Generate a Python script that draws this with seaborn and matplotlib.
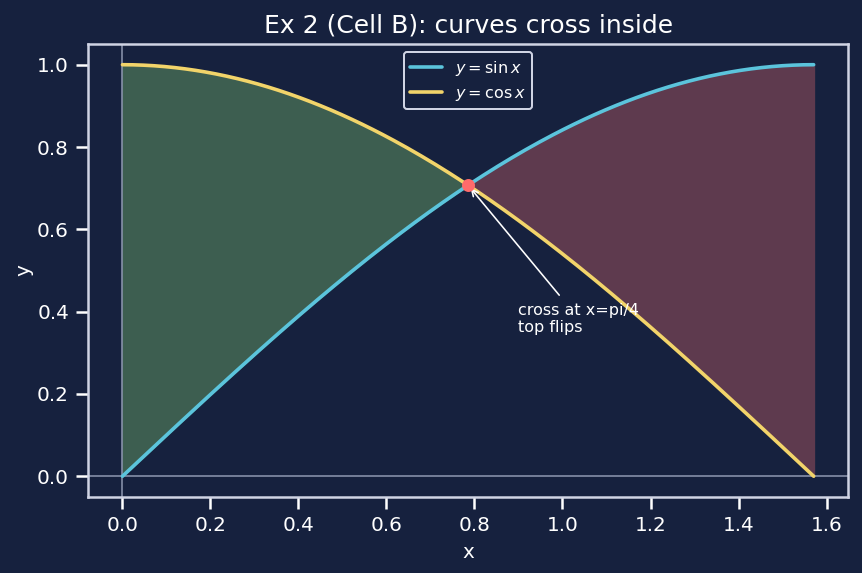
import numpy as np
import pandas as pd
import matplotlib
matplotlib.use("Agg")
import matplotlib.pyplot as plt
import seaborn as sns

# curve samples on [0, pi/2]
x_vals = np.linspace(0, np.pi / 2, 200)
sin_vals = np.sin(x_vals)
cos_vals = np.cos(x_vals)
cross_x = np.pi / 4
cross_y = np.sin(np.pi / 4)

bg = '#16213e'
fg = '#ffffff'
sns.set_theme(style='dark', rc={
    'figure.facecolor': bg, 'axes.facecolor': bg,
    'axes.edgecolor': '#d0d4e4', 'text.color': fg,
    'axes.labelcolor': fg, 'xtick.color': fg, 'ytick.color': fg,
    'xtick.bottom': True, 'ytick.left': True,
})

df = pd.DataFrame({'x': x_vals, 'sin': sin_vals, 'cos': cos_vals})

fig, ax = plt.subplots(figsize=(862 / 144, 573 / 144), dpi=144)
fig.subplots_adjust(left=0.102, right=0.984, top=0.923, bottom=0.133)

ax.fill_between(df['x'], df['sin'], df['cos'], where=df['cos'] >= df['sin'],
                color='#3d5e50', interpolate=True, zorder=1)
ax.fill_between(df['x'], df['sin'], df['cos'], where=df['sin'] >= df['cos'],
                color='#5e3a4e', interpolate=True, zorder=1)
ax.axhline(0, color='#8a93ad', lw=0.8, zorder=2)
ax.axvline(0, color='#8a93ad', lw=0.8, zorder=2)

sns.lineplot(data=df, x='x', y='sin', ax=ax, color='#5bc4dc', lw=1.8,
             label=r'$y=\sin x$', zorder=3)
sns.lineplot(data=df, x='x', y='cos', ax=ax, color='#f2d46a', lw=1.8,
             label=r'$y=\cos x$', zorder=3)
ax.scatter([cross_x], [cross_y], color='#ff6b6b', s=30, zorder=5)

ax.annotate('cross at x=pi/4\ntop flips', xy=(cross_x, cross_y),
            xytext=(0.9, 0.35), color=fg, fontsize=8,
            arrowprops=dict(arrowstyle='->', color=fg, lw=0.8))

ax.set_title('Ex 2 (Cell B): curves cross inside', fontsize=12.5, color=fg)
ax.set_xlabel('x', fontsize=10)
ax.set_ylabel('y', fontsize=10, labelpad=2)
ax.tick_params(labelsize=10)
ax.set_xlim(-0.0785, 1.6493)
ax.set_ylim(-0.05, 1.05)
leg = ax.legend(loc='upper center', fontsize=8, facecolor=bg,
                edgecolor='#d0d4e4', framealpha=1)
for t in leg.get_texts():
    t.set_color(fg)

fig.savefig('out.png', dpi=144, facecolor=bg)
